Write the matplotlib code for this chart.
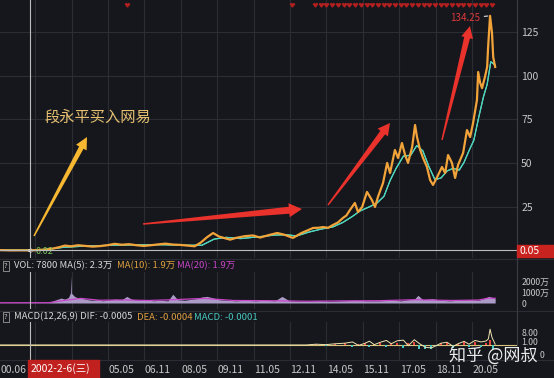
import matplotlib.pyplot as plt
from matplotlib.lines import Line2D
from matplotlib.patches import Polygon, Rectangle
import numpy as np

plt.rcParams["font.family"] = ["Noto Sans CJK SC", "DejaVu Sans"]

W, H = 554, 378
BG = "#15171c"
GRID = "#2a2d34"
LABEL = "#c8c8c8"
X0, X1 = 2000.88, 2022.18

# forward-adjusted close
price_year = [2000.50, 2000.90, 2001.30, 2001.70, 2002.00, 2002.40, 2002.80, 2003.10, 2003.35, 2003.55,
              2003.80, 2004.10, 2004.40, 2004.70, 2005.00, 2005.30, 2005.60, 2005.90, 2006.20, 2006.50,
              2006.80, 2007.10, 2007.40, 2007.70, 2008.00, 2008.30, 2008.60, 2008.90, 2009.15, 2009.40,
              2009.66, 2009.90, 2010.15, 2010.36, 2010.60, 2010.97, 2011.30, 2011.60, 2011.95, 2012.30,
              2012.60, 2012.95, 2013.30, 2013.55, 2013.78, 2014.00, 2014.19, 2014.40, 2014.60, 2014.80,
              2015.01, 2015.15, 2015.30, 2015.50, 2015.63, 2015.80, 2016.00, 2016.20, 2016.33, 2016.45,
              2016.66, 2016.83, 2016.95, 2017.15, 2017.28, 2017.44, 2017.57, 2017.69, 2017.86, 2017.98,
              2018.06, 2018.19, 2018.31, 2018.47, 2018.60, 2018.72, 2018.89, 2019.09, 2019.22, 2019.34,
              2019.50, 2019.63, 2019.75, 2019.96, 2020.12, 2020.25, 2020.37, 2020.53, 2020.58, 2020.66,
              2020.74, 2020.86, 2020.95, 2020.99, 2021.07, 2021.15, 2021.20, 2021.28]
price = [0.3, 0.2, 0.05, 0.08, 0.05, 0.2, 0.6, 1.2, 2.0, 2.8,
         2.4, 3.0, 2.6, 2.2, 2.5, 3.0, 3.8, 3.3, 3.6, 3.0,
         2.6, 3.0, 3.5, 3.9, 3.4, 3.2, 2.8, 2.4, 4.5, 7.5,
         10.0, 8.0, 7.0, 6.2, 7.2, 8.2, 8.6, 7.4, 8.8, 10.0,
         9.0, 7.2, 10.0, 11.5, 12.9, 13.0, 13.4, 13.0, 14.6, 16.0,
         18.6, 20.0, 23.2, 27.2, 22.0, 24.9, 33.5, 28.9, 24.9, 30.6,
         38.6, 50.1, 44.3, 57.5, 52.9, 61.5, 54.6, 50.1, 59.2, 71.8,
         64.9, 57.5, 52.9, 47.8, 40.3, 37.5, 42.0, 47.8, 44.3, 54.6,
         50.1, 41.5, 48.9, 55.8, 68.9, 64.9, 72.9, 86.1, 102.1, 96.0,
         92.9, 99.3, 105.0, 116.4, 134.25, 124.4, 110.6, 105.0]

ma_year = [2000.5, 2002.5, 2003.5, 2004.5, 2005.5, 2006.5, 2007.5, 2008.5, 2009.2, 2009.7,
           2010.2, 2010.8, 2011.5, 2012.2, 2012.7, 2013.1, 2013.6, 2014.1, 2014.6, 2015.0,
           2015.4, 2015.7, 2016.1, 2016.4, 2016.7, 2016.95, 2017.2, 2017.5, 2017.8, 2018.05,
           2018.3, 2018.55, 2018.8, 2019.05, 2019.3, 2019.55, 2019.8, 2020.0, 2020.2, 2020.4,
           2020.6, 2020.8, 2020.95, 2021.1, 2021.28]
ma_price = [0.3, 0.2, 1.8, 2.6, 3.0, 3.2, 3.3, 3.0, 3.0, 6.5,
            7.5, 6.8, 7.8, 8.8, 9.0, 8.3, 10.5, 12.2, 13.5, 16.0,
            19.5, 22.5, 25.0, 27.0, 31.0, 40.0, 47.0, 54.0, 54.5, 60.0,
            57.0, 48.0, 40.5, 41.5, 45.5, 47.0, 46.0, 50.5, 57.0, 63.0,
            76.0, 88.0, 95.0, 108.0, 106.0]

# volume in 万
vol_year = [2000.5, 2002.9, 2003.0, 2003.2, 2003.4, 2003.55, 2003.7, 2003.78, 2003.8, 2003.82,
            2003.95, 2004.1, 2004.3, 2004.5, 2004.7, 2004.9, 2005.1, 2005.3, 2005.6, 2005.9,
            2006.1, 2006.3, 2006.6, 2006.9, 2007.2, 2007.5, 2007.8, 2008.0, 2008.2, 2008.5,
            2008.8, 2009.0, 2009.2, 2009.4, 2009.6, 2009.9, 2010.2, 2010.6, 2011.0, 2011.4,
            2011.8, 2012.2, 2012.5, 2012.8, 2013.2, 2013.6, 2014.0, 2014.5, 2015.0, 2015.5,
            2016.0, 2016.5, 2017.0, 2017.4, 2017.7, 2017.95, 2018.1, 2018.3, 2018.7, 2019.0,
            2019.4, 2019.8, 2020.2, 2020.6, 2020.9, 2021.0, 2021.1, 2021.2, 2021.28]
vol = [20, 30, 150, 300, 450, 350, 500, 900, 2500, 900,
       600, 450, 400, 300, 250, 300, 200, 250, 350, 300,
       600, 350, 250, 300, 200, 250, 200, 800, 300, 250,
       350, 400, 550, 600, 500, 300, 250, 200, 250, 200,
       250, 200, 600, 200, 150, 150, 200, 150, 200, 250,
       200, 200, 250, 200, 300, 350, 700, 300, 400, 250,
       200, 250, 300, 250, 450, 600, 550, 450, 400]
volma_year = [2000.5, 2002.9, 2003.6, 2004.2, 2005.0, 2006.0, 2007.0, 2008.0, 2009.3, 2010.5,
              2012.0, 2013.5, 2015.0, 2016.5, 2018.0, 2019.5, 2020.6, 2021.0, 2021.28]
volma = [20, 30, 250, 420, 250, 280, 230, 300, 420, 230,
         210, 160, 190, 210, 300, 230, 270, 450, 430]

# MACD panel
dif_year = [2000.5, 2013.5, 2013.9, 2014.3, 2014.7, 2015.1, 2015.4, 2015.65, 2015.9, 2016.1,
            2016.3, 2016.55, 2016.8, 2017.0, 2017.25, 2017.5, 2017.7, 2017.95, 2018.15, 2018.4,
            2018.65, 2018.85, 2019.05, 2019.3, 2019.55, 2019.75, 2020.0, 2020.2, 2020.45, 2020.7,
            2020.9, 2021.0, 2021.07, 2021.15, 2021.28]
dif = [0.0, 0.0, 0.5, 0.2, 0.8, 1.2, 2.0, -0.3, 1.0, 2.5,
       0.2, 1.8, 3.0, 0.8, 2.8, 3.2, -0.5, 3.5, 1.0, -1.5,
       -2.0, -0.5, 1.2, 1.8, -1.0, 0.8, 2.4, 0.5, 3.0, 2.0,
       2.6, 4.0, 10.5, 5.0, 0.5]
hist_year = [2013.9, 2014.3, 2014.7, 2015.1, 2015.4, 2015.65, 2015.9, 2016.1, 2016.3, 2016.55,
             2016.8, 2017.0, 2017.25, 2017.5, 2017.7, 2017.95, 2018.15, 2018.4, 2018.65, 2018.85,
             2019.05, 2019.3, 2019.55, 2019.75, 2020.0, 2020.2, 2020.45, 2020.7, 2020.9, 2021.05,
             2021.2]
hist = [0.5, -0.4, 0.6, 1.0, -1.2, 0.8, 1.2, -1.5, 0.9, 1.5,
        -1.2, 1.3, 1.6, -2.0, 1.0, 2.0, -2.5, -2.8, -3.0, -1.0,
        1.0, 1.4, -2.2, 0.9, 1.8, -1.5, 2.0, -1.2, 1.5, 3.5,
        -2.5]

# dividend markers along the top edge
div_year = [2006.11, 2012.91, 2013.86, 2014.10, 2014.33, 2014.57, 2014.80, 2015.04, 2015.27, 2015.51,
            2015.74, 2015.98, 2016.21, 2016.45, 2016.68, 2016.92, 2017.15, 2017.39, 2017.62, 2017.86,
            2018.09, 2018.33, 2018.56, 2018.80, 2019.03, 2019.27, 2019.50, 2019.74, 2019.97, 2020.21,
            2020.44, 2020.68, 2020.91, 2021.15]

grid_years = [2002.33, 2003.83, 2005.33, 2006.83, 2008.33, 2009.83, 2011.33, 2012.83,
              2014.33, 2015.83, 2017.33, 2018.83, 2020.33]
date_labels = ["05.05", "06.11", "08.05", "09.11", "11.05", "12.11",
               "14.05", "15.11", "17.05", "18.11", "20.05"]
price_ticks = [25, 50, 75, 100, 125]
cross_year = 2002.1
peak_year, peak_price = 2021.07, 134.25

assert len(price_year) == len(price)
assert len(ma_year) == len(ma_price)
assert len(vol_year) == len(vol)
assert len(volma_year) == len(volma)
assert len(dif_year) == len(dif)
assert len(hist_year) == len(hist)


def px_axes(fig, x0, y0, x1, y1):
    ax = fig.add_axes([x0 / W, 1 - y1 / H, (x1 - x0) / W, (y1 - y0) / H])
    ax.set_facecolor(BG)
    for spine in ax.spines.values():
        spine.set_visible(False)
    ax.set_xlim(X0, X1)
    ax.set_xticks([])
    return ax


def fig_xy(x, y):
    return x / W, 1 - y / H


def taper_arrow(fig, tail, head, w0, w1, hw, hl, color):
    (x0, y0), (x1, y1) = tail, head
    length = np.hypot(x1 - x0, y1 - y0)
    ux, uy = (x1 - x0) / length, (y1 - y0) / length
    nx, ny = -uy, ux
    bx, by = x1 - ux * hl, y1 - uy * hl
    pts = [
        (x0 + nx * w0 / 2, y0 + ny * w0 / 2),
        (bx + nx * w1 / 2, by + ny * w1 / 2),
        (bx + nx * hw / 2, by + ny * hw / 2),
        (x1, y1),
        (bx - nx * hw / 2, by - ny * hw / 2),
        (bx - nx * w1 / 2, by - ny * w1 / 2),
        (x0 - nx * w0 / 2, y0 - ny * w0 / 2),
    ]
    fig.add_artist(Polygon([fig_xy(x, y) for x, y in pts], closed=True,
                           color=color, lw=0, transform=fig.transFigure, zorder=8))


fig = plt.figure(figsize=(W / 100, H / 100), dpi=100, facecolor=BG)

# main price panel
ax = px_axes(fig, 0, 0, 517, 258)
ax.set_ylim(-4.3, 143.3)
for g in grid_years:
    ax.axvline(g, color=GRID, lw=0.8, zorder=0)
for p in price_ticks:
    ax.axhline(p, color=GRID, lw=0.8, zorder=0)
ax.yaxis.tick_right()
ax.set_yticks(price_ticks)
ax.tick_params(axis="y", length=0, pad=3, labelcolor=LABEL, labelsize=7.5)
ax.plot(ma_year, ma_price, color="#9be36d", lw=0.8, zorder=2)
ax.plot(ma_year, ma_price, color="#44d6cf", lw=0.9, zorder=2)
ax.plot(price_year, price, color="#f2a33a", lw=1.6, zorder=3)
ax.axvline(cross_year, color="#bdbdbd", lw=0.8, zorder=4)
ax.axhline(0.05, color="#bdbdbd", lw=0.8, zorder=4)
ax.scatter(div_year, [0.975] * len(div_year), transform=ax.get_xaxis_transform(),
           marker=7, s=9, color="#b3201f", zorder=5)
ax.annotate("134.25", xy=(peak_year, peak_price), xytext=(2020.66, 133.0),
            color="#e0393a", fontsize=7, ha="right", va="center",
            arrowprops=dict(arrowstyle="-", ls="--", color="white", lw=0.7,
                            shrinkA=1, shrinkB=1))
ax.annotate("0.02", xy=(2001.98, 0.05), xytext=(2002.35, -0.8),
            color="#7cc25a", fontsize=6.5, va="center",
            arrowprops=dict(arrowstyle="->", color="white", lw=0.6,
                            shrinkA=0, shrinkB=0))
ax.text(2002.73, 76.4, "段永平买入网易", color="#e6c071", fontsize=11,
        ha="left", va="center", zorder=6)

# volume panel
axv = px_axes(fig, 0, 272, 517, 309)
axv.set_ylim(-545, 2818)
for g in grid_years:
    axv.axvline(g, color=GRID, lw=0.8, zorder=0)
axv.fill_between(vol_year, 0, vol, color="#c7b3e6", lw=0, alpha=0.85, zorder=2)
axv.plot(volma_year, volma, color="#c845c8", lw=0.9, zorder=3)
axv.axvline(cross_year, color="#bdbdbd", lw=0.8, zorder=4)
axv.yaxis.tick_right()
axv.set_yticks([2000, 1000, 0], ["2000万", "1000万", "0"])
axv.tick_params(axis="y", length=0, pad=3, labelcolor=LABEL, labelsize=6.3)

# MACD panel
axm = px_axes(fig, 0, 322, 517, 361)
axm.set_ylim(-10.7, 15.3)
for g in grid_years:
    axm.axvline(g, color=GRID, lw=0.8, zorder=0)
axm.axhline(0, color="#d9c27a", lw=0.8, zorder=1)
axm.bar(hist_year, hist, width=0.08,
        color=["#e8463a" if v > 0 else "#49c9c0" for v in hist], zorder=2)
axm.plot(dif_year, dif, color="#efe3b0", lw=0.7, zorder=3)
axm.axvline(cross_year, color="#bdbdbd", lw=0.8, zorder=4)
axm.yaxis.tick_right()
axm.set_yticks([8.3, 2.1], ["8.00", "1.00"])
axm.tick_params(axis="y", length=0, pad=3, labelcolor=LABEL, labelsize=6.3)
# lower MACD label, mostly hidden behind the watermark in the reference
fig.text(*fig_xy(540, 356), "0", color=LABEL, fontsize=6.3, va="center", ha="left")

# date axis
axd = px_axes(fig, 0, 360, 517, 378)
axd.set_ylim(0, 1)
axd.set_yticks([])
axd.text(X0 + 0.02, 0.45, "00.06", color=LABEL, fontsize=7.5, va="center", ha="left")
for g, lab in zip(grid_years[2:], date_labels):
    axd.text(g + 0.02, 0.45, lab, color=LABEL, fontsize=7.5, va="center", ha="left")
fig.add_artist(Rectangle(fig_xy(28, 378), 71 / W, 18 / H, color="#c0201e",
                         transform=fig.transFigure, zorder=6))
fig.text(*fig_xy(31, 368.5), "2002-2-6(三)", color="white", fontsize=7.5,
         va="center", ha="left", zorder=7)

# panel borders
for y in (259, 311, 360):
    fig.add_artist(Line2D([0, 1], [1 - y / H] * 2, color=GRID, lw=0.8,
                          transform=fig.transFigure))
fig.add_artist(Line2D([517 / W] * 2, [1 - 360 / H, 1], color="#3a3d44", lw=0.8,
                      transform=fig.transFigure))

# crosshair price tag
fig.add_artist(Rectangle(fig_xy(517, 257), 37 / W, 12 / H, color="#c8231f",
                         transform=fig.transFigure, zorder=6))
fig.text(*fig_xy(519, 251), "0.05", color="white", fontsize=7.5,
         va="center", ha="left", zorder=7)

# panel titles
fig.text(*fig_xy(4, 266), "?", color=LABEL, fontsize=5.5, va="center",
         bbox=dict(boxstyle="square,pad=0.15", fc="none", ec="#9a9a9a", lw=0.6))
fig.text(*fig_xy(14, 266), "VOL: 7800 MA(5): 2.3万", color="#d8d8d8", fontsize=6.8, va="center")
fig.text(*fig_xy(117, 266), "MA(10): 1.9万", color="#e0a040", fontsize=6.8, va="center")
fig.text(*fig_xy(177, 266), "MA(20): 1.9万", color="#c845c8", fontsize=6.8, va="center")
fig.text(*fig_xy(4, 317), "?", color=LABEL, fontsize=5.5, va="center",
         bbox=dict(boxstyle="square,pad=0.15", fc="none", ec="#9a9a9a", lw=0.6))
fig.text(*fig_xy(14, 317), "MACD(12,26,9) DIF: -0.0005", color="#d8d8d8", fontsize=6.8, va="center")
fig.text(*fig_xy(137, 317), "DEA: -0.0004", color="#e0a040", fontsize=6.8, va="center")
fig.text(*fig_xy(194, 317), "MACD: -0.0001", color="#49c9c0", fontsize=6.8, va="center")

# hand-drawn arrows
taper_arrow(fig, (34, 236), (87, 137), 1.5, 5, 12, 12, "#f6b731")
taper_arrow(fig, (143, 224), (302, 209), 1.5, 7, 14, 13, "#e8322b")
taper_arrow(fig, (328, 205), (390, 123), 1.5, 6, 13, 12, "#e8322b")
taper_arrow(fig, (442, 140), (470, 26), 1.5, 6, 12, 12, "#e8322b")

# watermark
fig.text(*fig_xy(449, 356), "知乎 @网叔", color="white", fontsize=12.3, va="center",
         ha="left", alpha=0.92, zorder=10)

fig.savefig("out.png", dpi=100, facecolor=BG)
